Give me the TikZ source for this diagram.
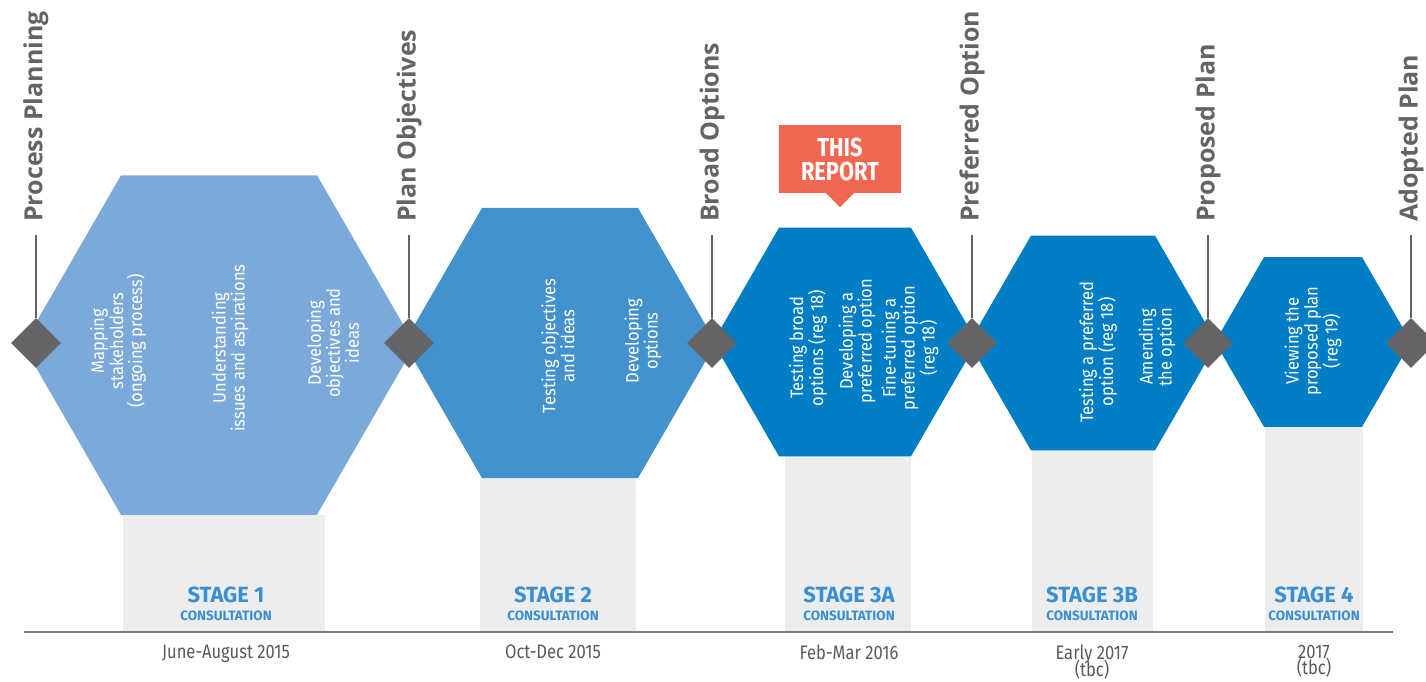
\documentclass[tikz,border=0pt]{standalone}
\usepackage{fontspec}
\setmainfont{Fira Sans}
\newfontfamily\milefont{Open Sans}
\newfontfamily\hexfont[FakeStretch=0.92]{Fira Sans}
\newfontfamily\datefont[FakeStretch=0.85]{Fira Sans}
\newfontfamily\condfont[FakeStretch=0.84]{Fira Sans}
\usetikzlibrary{shapes.geometric}

\definecolor{stageone}{HTML}{7BAADA}
\definecolor{stagetwo}{HTML}{4392CE}
\definecolor{stagethree}{HTML}{007EC5}
\definecolor{mile}{HTML}{646466}
\definecolor{panelgrey}{HTML}{ECEDEF}
\definecolor{stageblue}{HTML}{3A8FD2}
\definecolor{dategrey}{HTML}{5A5A5A}
\definecolor{report}{HTML}{F16751}

\begin{document}
\begin{tikzpicture}[x=1pt,y=-1pt,
	hex/.style={regular polygon,regular polygon sides=6,inner sep=0pt,outer sep=0pt},
	milestone/.style={diamond,fill=mile,minimum width=50pt,minimum height=50pt,inner sep=0pt},
	mlabel/.style={rotate=90,anchor=west,inner sep=0pt,text=mile,font=\milefont\bfseries\fontsize{25}{25}\selectfont},
	stem/.style={draw=mile,line width=2.6pt,shorten >=13pt},
	htext/.style={rotate=90,align=center,text=white,font=\hexfont\fontsize{18}{19}\selectfont},
	panel/.style={fill=panelgrey},
	stage/.style={text=stageblue,inner sep=0pt,font=\bfseries\fontsize{22}{22}\selectfont},
	consult/.style={text=stageblue,inner sep=0pt,font=\bfseries\fontsize{13.5}{14}\selectfont},
	when/.style={anchor=north,inner sep=0pt,align=center,text=dategrey,font={\datefont\fontsize{19.5}{16.5}\selectfont\lineskiplimit=-20pt}}]
	\useasboundingbox (0,0) rectangle (1426,681);
	%
	\fill[panel] (123,515) rectangle (325,632);
	\fill[panel] (480,478) rectangle (636,632);
	\fill[panel] (785,456) rectangle (911,632);
	\fill[panel] (1032,450) rectangle (1153,632);
	\fill[panel] (1265,427) rectangle (1363,632);
	\draw[dategrey!80,line width=2pt] (24,632) -- (1393,632);
	%
	\node[hex,fill=stageone,minimum size=392pt] (h1) at (219,345) {};
	\node[hex,fill=stagetwo,minimum size=312pt] (h2) at (560,343) {};
	\node[hex,fill=stagethree,minimum size=264pt] (h3a) at (845,342) {};
	\node[hex,fill=stagethree,minimum size=248pt] (h3b) at (1093,343) {};
	\node[hex,fill=stagethree,minimum size=196pt] (h4) at (1313,342) {};
	%
	\node[htext] (t11) at (118,341) {Mapping\\stakeholders\\(ongoing process)};
	\node[htext] (t12) at (230,348) {Understanding\\issues and aspirations};
	\node[htext] (t13) at (333,343) {Developing\\objectives and\\ideas};
	\node[htext] (t21) at (558,346) {Testing objectives\\and ideas};
	\node[htext] (t22) at (643,341) {Developing\\options};
	\node[htext] (t31) at (808,348) {Testing broad\\options (reg 18)};
	\node[htext] (t32) at (857,341) {Developing a\\preferred option};
	\node[htext] (t33) at (910,348) {Fine-tuning a\\preferred option\\(reg 18)};
	\node[htext] (t41) at (1098,352) {Testing a preferred\\option (reg 18)};
	\node[htext] (t42) at (1157,347) {Amending\\the option};
	\node[htext] (t51) at (1313,341) {Viewing the\\proposed plan\\(reg 19)};
	%
	\foreach \x/\name [count=\i] in {36/Process Planning,409/Plan Objectives,712/Broad Options,972/Preferred Option,1208/Proposed Plan,1411/Adopted Plan}{
		\node[milestone] (d\i) at (\x,343) {};
		\node[mlabel] (m\i) at (\x,222) {\name};
		\draw[stem] (d\i.north) -- (m\i.west);
	}
	%
	\node[fill=report,minimum width=122pt,minimum height=68pt,align=center,text=white,font=\condfont\bfseries\fontsize{26}{24}\selectfont] (rep) at (840,159) {THIS\\REPORT};
	\fill[report] ([xshift=-14pt]rep.south) -- ([xshift=14pt]rep.south) -- ([yshift=-14pt]rep.south) -- cycle;
	%
	\foreach \x/\s/\d [count=\i] in {226/1/June-August 2015,553/2/Oct-Dec 2015,849/3A/Feb-Mar 2016,1092/3B/Early 2017\\(tbc),1314/4/2017\\(tbc)}{
		\node[stage] (s\i) at (\x,595) {STAGE \s};
		\node[consult] (c\i) at (\x,616) {CONSULTATION};
		\node[when] (w\i) at (\x,645) {\d};
	}
\end{tikzpicture}
\end{document}
